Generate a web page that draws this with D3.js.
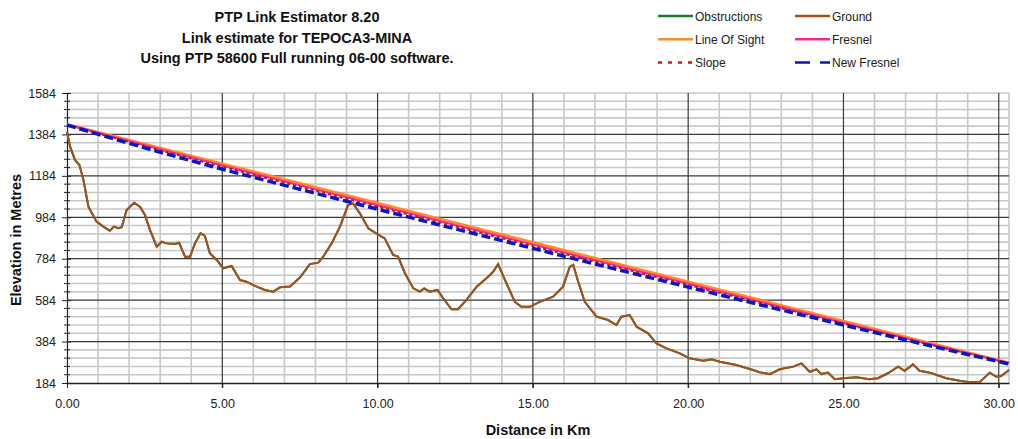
<!DOCTYPE html>
<html><head><meta charset="utf-8">
<script src="https://cdn.jsdelivr.net/npm/d3@7"></script>
<style>
html,body{margin:0;padding:0;background:#fff;}
svg{display:block;font-family:"Liberation Sans",Arial,sans-serif;}
</style></head>
<body><svg id="chart" width="1018" height="439"></svg>
<script>
// ---------- data ----------
const titleLines = ["PTP Link Estimator 8.20", "Link estimate for TEPOCA3-MINA", "Using PTP 58600 Full running 06-00 software."];
const xTicks = [0, 5, 10, 15, 20, 25, 30];
const yTicks = [184, 384, 584, 784, 984, 1184, 1384, 1584];

const groundKm = [0.00,0.10,0.26,0.40,0.53,0.69,0.95,1.17,1.38,1.51,1.65,1.76,1.92,2.16,2.35,2.51,2.67,2.89,3.05,3.21,3.48,3.61,3.80,3.96,4.12,4.30,4.44,4.60,4.82,5.03,5.30,5.57,5.78,6.11,6.37,6.64,6.86,7.18,7.50,7.82,8.09,8.25,8.52,8.79,9.05,9.21,9.43,9.70,9.99,10.23,10.50,10.66,10.88,11.15,11.36,11.50,11.68,11.93,12.11,12.38,12.59,12.86,13.19,13.56,13.72,13.88,14.15,14.42,14.63,14.90,15.22,15.65,15.97,16.19,16.30,16.46,16.67,17.05,17.42,17.69,17.85,18.12,18.34,18.71,18.98,19.30,19.73,20.05,20.48,20.75,21.02,21.55,22.09,22.30,22.63,22.95,23.38,23.65,23.91,24.13,24.29,24.50,24.72,24.99,25.42,25.84,26.11,26.43,26.76,26.97,27.24,27.45,27.78,28.31,28.74,29.01,29.39,29.71,29.92,30.08,30.33];
const groundElev = [1397,1325,1260,1236,1164,1035,963,939,919,939,931,936,1019,1054,1035,995,923,842,866,858,855,861,794,794,858,907,894,810,778,738,749,681,673,649,633,625,646,650,693,758,765,794,858,939,1043,1051,1003,931,903,882,802,794,714,641,625,641,625,633,593,540,540,585,649,697,721,758,665,576,552,552,576,601,649,745,754,673,576,504,488,464,504,512,456,424,375,351,327,303,292,298,287,271,247,236,227,250,263,279,238,250,227,234,202,207,212,202,207,231,263,243,274,243,234,207,195,189,189,234,214,218,247];
const obstructionElev = groundElev.slice();

const linkKm =         [0,    2.5,  5,    7.5,  10,   12.5, 15,  17.5, 20,  22.5, 25,  27.5, 30.33];
const losElev =        [1432, 1337, 1242, 1147, 1052, 957,  862, 767,  672, 577,  482, 387,  281];
const fresnelElev =    [1432, 1332, 1234, 1138, 1042, 947,  852, 757,  663, 569,  475, 382,  281];
const slopeElev =      [1430, 1327, 1228, 1131, 1035, 940,  845, 751,  657, 564,  471, 379,  278];
const newFresnelElev = [1429, 1319, 1216, 1119, 1023, 928,  834, 740,  647, 555,  464, 374,  276];

const legendItems = [
  {name:"Obstructions", color:"#1f7a2e", dash:null, w:2.5},
  {name:"Ground", color:"#a4511e", dash:null, w:2.5},
  {name:"Line Of Sight", color:"#ff8a2a", dash:null, w:2.5},
  {name:"Fresnel", color:"#ee2d96", dash:null, w:2.5},
  {name:"Slope", color:"#e01010", dash:"4,6", w:2.5},
  {name:"New Fresnel", color:"#0a14c8", dash:"15,10", w:2.5}
];

// ---------- layout ----------
const svg = d3.select("#chart");
const L = 67, R = 1009, T = 93, B = 383;
const x = d3.scaleLinear().domain([0, 30.33]).range([L, R]);
const y = d3.scaleLinear().domain([184, 1584]).range([B, T]);

// minor grid
const g = svg.append("g");
const minorX = d3.range(1, 31).filter(v => v % 5 !== 0);
g.selectAll("line.mx").data(minorX.concat([30.33])).enter().append("line")
  .attr("x1", d => x(d)).attr("x2", d => x(d)).attr("y1", T).attr("y2", B)
  .attr("stroke", "#c8c8c8").attr("stroke-width", 1.6);
const minorY = d3.range(224, 1584 + 1, 40).filter(v => (v - 184) % 200 !== 0);
g.selectAll("line.my").data(minorY.concat([1584])).enter().append("line")
  .attr("x1", L).attr("x2", R).attr("y1", d => y(d)).attr("y2", d => y(d))
  .attr("stroke", "#c8c8c8").attr("stroke-width", 1.6);
// major grid
g.selectAll("line.Mx").data(xTicks.slice(1)).enter().append("line")
  .attr("x1", d => x(d)).attr("x2", d => x(d)).attr("y1", T).attr("y2", B + 5)
  .attr("stroke", "#3a3a3a").attr("stroke-width", 1.2);
g.selectAll("line.My").data(yTicks.slice(1, -1)).enter().append("line")
  .attr("x1", L).attr("x2", R).attr("y1", d => y(d)).attr("y2", d => y(d))
  .attr("stroke", "#3a3a3a").attr("stroke-width", 1.2);

// axes
const yAxis = d3.axisLeft(y).tickValues(yTicks).tickFormat(d3.format("d")).tickSizeInner(5).tickSizeOuter(0).tickPadding(6);
const ya = svg.append("g").attr("transform", `translate(${L},0)`).call(yAxis);
ya.select(".domain").attr("stroke", "#222").attr("stroke-width", 1.2);
ya.selectAll(".tick line").attr("stroke", "#222").attr("x2", -5).attr("x1", 4);
ya.selectAll(".tick text").attr("font-size", "12.5px").attr("fill", "#222").attr("font-family", "Liberation Sans, Arial, sans-serif");
ya.selectAll("line.mt").data(d3.range(184, 1585, 40).filter(v => (v - 184) % 200 !== 0)).enter().append("line")
  .attr("x1", -3).attr("x2", 3).attr("y1", d => y(d)).attr("y2", d => y(d)).attr("stroke", "#222");

const xAxis = d3.axisBottom(x).tickValues(xTicks).tickFormat(d3.format(".2f")).tickSizeInner(5).tickSizeOuter(0).tickPadding(11);
const xa = svg.append("g").attr("transform", `translate(0,${B})`).call(xAxis);
xa.select(".domain").attr("stroke", "#222").attr("stroke-width", 1.5);
xa.selectAll(".tick line").attr("stroke", "#222");
xa.selectAll(".tick text").attr("font-size", "12.5px").attr("fill", "#222").attr("font-family", "Liberation Sans, Arial, sans-serif");

// series
const lineFn = d3.line().x(d => x(d[0])).y(d => y(d[1]));
const plot = svg.append("g");
plot.append("path").datum(groundKm.map((k, i) => [k, obstructionElev[i]]))
  .attr("d", lineFn).attr("fill", "none").attr("stroke", legendItems[0].color).attr("stroke-width", 2);
plot.append("path").datum(groundKm.map((k, i) => [k, groundElev[i]]))
  .attr("d", lineFn).attr("fill", "none").attr("stroke", legendItems[1].color).attr("stroke-width", 2);
plot.append("path").datum(linkKm.map((k, i) => [k, losElev[i]]))
  .attr("d", lineFn).attr("fill", "none").attr("stroke", legendItems[2].color).attr("stroke-width", 3);
plot.append("path").datum(linkKm.map((k, i) => [k, fresnelElev[i]]))
  .attr("d", lineFn).attr("fill", "none").attr("stroke", legendItems[3].color).attr("stroke-width", 2);
plot.append("path").datum(linkKm.map((k, i) => [k, slopeElev[i]]))
  .attr("d", lineFn).attr("fill", "none").attr("stroke", legendItems[4].color).attr("stroke-width", 2).attr("stroke-dasharray", "3,3");
plot.append("path").datum(linkKm.map((k, i) => [k, newFresnelElev[i]]))
  .attr("d", lineFn).attr("fill", "none").attr("stroke", legendItems[5].color).attr("stroke-width", 3.5).attr("stroke-dasharray", "9,4");

// titles
svg.append("g").selectAll("text").data(titleLines).enter().append("text")
  .attr("x", 297).attr("y", (d, i) => 22 + i * 20.5).attr("text-anchor", "middle")
  .attr("font-size", "14.5px").attr("font-weight", "bold").attr("fill", "#111").text(d => d);
svg.append("text").attr("x", 538).attr("y", 435).attr("text-anchor", "middle")
  .attr("font-size", "14.5px").attr("font-weight", "bold").attr("fill", "#111").text("Distance in Km");
svg.append("text").attr("transform", "translate(21,240) rotate(-90)").attr("text-anchor", "middle")
  .attr("font-size", "14.5px").attr("font-weight", "bold").attr("fill", "#111").text("Elevation in Metres");

// legend
const lg = svg.append("g");
legendItems.forEach((it, i) => {
  const col = i % 2, row = Math.floor(i / 2);
  const lx = col === 0 ? 658 : 795, ly = 16 + row * 23.3;
  lg.append("line").attr("x1", lx).attr("x2", lx + 35).attr("y1", ly).attr("y2", ly)
    .attr("stroke", it.color).attr("stroke-width", it.w).attr("stroke-dasharray", it.dash);
  lg.append("text").attr("x", lx + 37).attr("y", ly + 4.5).attr("font-size", "12px").attr("fill", "#222").text(it.name);
});
</script></body></html>
